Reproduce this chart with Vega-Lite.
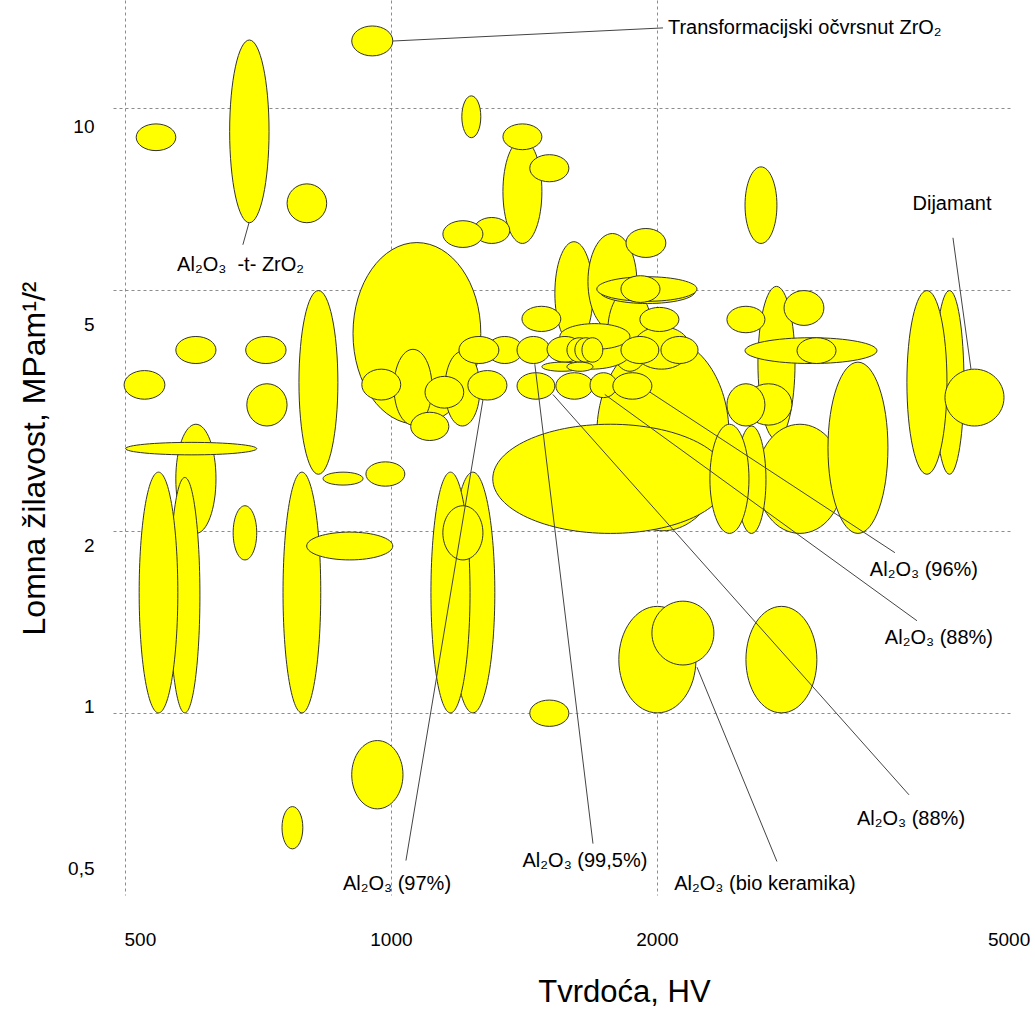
{
  "$schema": "https://vega.github.io/schema/vega-lite/v6.json",
  "width": 897,
  "height": 895,
  "autosize": {"type": "none"},
  "padding": {"left": 113, "top": 0, "right": 25, "bottom": 117},
  "background": "white",
  "config": {
    "view": {"stroke": null},
    "font": "Liberation Sans",
    "axis": {"labelFont": "Liberation Sans", "titleFont": "Liberation Sans", "labelColor": "#000000", "titleColor": "#000000", "titleFontWeight": "normal"}
  },
  "datasets": {
    "ellipses": [
      {"hmin": 903, "hmax": 1005, "kmin": 12.19, "kmax": 13.66},
      {"hmin": 657, "hmax": 728, "kmin": 6.46, "kmax": 12.95},
      {"hmin": 515, "hmax": 571, "kmin": 8.5, "kmax": 9.41},
      {"hmin": 763, "hmax": 846, "kmin": 6.46, "kmax": 7.49},
      {"hmin": 1203, "hmax": 1264, "kmin": 8.93, "kmax": 10.47},
      {"hmin": 1339, "hmax": 1482, "kmin": 5.97, "kmax": 8.86},
      {"hmin": 1339, "hmax": 1482, "kmin": 8.53, "kmax": 9.41},
      {"hmin": 1436, "hmax": 1590, "kmin": 7.55, "kmax": 8.37},
      {"hmin": 1241, "hmax": 1363, "kmin": 5.97, "kmax": 6.59},
      {"hmin": 1145, "hmax": 1271, "kmin": 5.88, "kmax": 6.51},
      {"hmin": 2516, "hmax": 2734, "kmin": 5.97, "kmax": 7.99},
      {"hmin": 571, "hmax": 634, "kmin": 3.78, "kmax": 4.19},
      {"hmin": 685, "hmax": 761, "kmin": 3.78, "kmax": 4.19},
      {"hmin": 499, "hmax": 555, "kmin": 3.3, "kmax": 3.68},
      {"hmin": 687, "hmax": 763, "kmin": 2.98, "kmax": 3.5},
      {"hmin": 787, "hmax": 871, "kmin": 2.48, "kmax": 4.99},
      {"hmin": 571, "hmax": 634, "kmin": 1.98, "kmax": 3.0},
      {"hmin": 501, "hmax": 705, "kmin": 2.67, "kmax": 2.8},
      {"hmin": 838, "hmax": 930, "kmin": 2.38, "kmax": 2.5},
      {"hmin": 937, "hmax": 1037, "kmin": 2.37, "kmax": 2.6},
      {"hmin": 562, "hmax": 608, "kmin": 1.0, "kmax": 2.45},
      {"hmin": 519, "hmax": 574, "kmin": 1.0, "kmax": 2.5},
      {"hmin": 663, "hmax": 705, "kmin": 1.79, "kmax": 2.2},
      {"hmin": 755, "hmax": 833, "kmin": 1.0, "kmax": 2.5},
      {"hmin": 803, "hmax": 1005, "kmin": 1.79, "kmax": 1.99},
      {"hmin": 903, "hmax": 1032, "kmin": 0.694, "kmax": 0.9},
      {"hmin": 753, "hmax": 795, "kmin": 0.596, "kmax": 0.7},
      {"hmin": 1169, "hmax": 1311, "kmin": 1.0, "kmax": 2.5},
      {"hmin": 1110, "hmax": 1229, "kmin": 1.0, "kmax": 2.5},
      {"hmin": 1145, "hmax": 1271, "kmin": 1.79, "kmax": 2.2},
      {"hmin": 1436, "hmax": 1590, "kmin": 0.95, "kmax": 1.05},
      {"hmin": 1811, "hmax": 2214, "kmin": 1.0, "kmax": 1.5},
      {"hmin": 1974, "hmax": 2320, "kmin": 1.2, "kmax": 1.53},
      {"hmin": 2522, "hmax": 3034, "kmin": 1.0, "kmax": 1.5},
      {"hmin": 906, "hmax": 1264, "kmin": 3.0, "kmax": 5.99},
      {"hmin": 1008, "hmax": 1113, "kmin": 2.99, "kmax": 3.99},
      {"hmin": 1151, "hmax": 1261, "kmin": 2.98, "kmax": 3.96},
      {"hmin": 927, "hmax": 1026, "kmin": 3.29, "kmax": 3.7},
      {"hmin": 1093, "hmax": 1209, "kmin": 3.19, "kmax": 3.6},
      {"hmin": 1053, "hmax": 1163, "kmin": 2.82, "kmax": 3.14},
      {"hmin": 1222, "hmax": 1353, "kmin": 3.29, "kmax": 3.68},
      {"hmin": 1710, "hmax": 2413, "kmin": 2.0, "kmax": 4.17},
      {"hmin": 1304, "hmax": 2406, "kmin": 1.98, "kmax": 3.0},
      {"hmin": 1533, "hmax": 1693, "kmin": 4.06, "kmax": 6.01},
      {"hmin": 1671, "hmax": 1898, "kmin": 4.3, "kmax": 6.2},
      {"hmin": 1845, "hmax": 2047, "kmin": 5.66, "kmax": 6.32},
      {"hmin": 1760, "hmax": 1974, "kmin": 3.67, "kmax": 5.01},
      {"hmin": 1724, "hmax": 2208, "kmin": 4.75, "kmax": 5.2},
      {"hmin": 1710, "hmax": 2220, "kmin": 4.79, "kmax": 5.26},
      {"hmin": 1821, "hmax": 2016, "kmin": 4.77, "kmax": 5.28},
      {"hmin": 1879, "hmax": 2180, "kmin": 3.7, "kmax": 4.35},
      {"hmin": 1407, "hmax": 1557, "kmin": 4.27, "kmax": 4.7},
      {"hmin": 1913, "hmax": 2118, "kmin": 4.27, "kmax": 4.68},
      {"hmin": 1525, "hmax": 1864, "kmin": 3.7, "kmax": 4.17},
      {"hmin": 1553, "hmax": 1864, "kmin": 3.99, "kmax": 4.4},
      {"hmin": 1284, "hmax": 1410, "kmin": 3.78, "kmax": 4.19},
      {"hmin": 1194, "hmax": 1325, "kmin": 3.78, "kmax": 4.19},
      {"hmin": 1389, "hmax": 1513, "kmin": 3.78, "kmax": 4.19},
      {"hmin": 1502, "hmax": 1649, "kmin": 3.8, "kmax": 4.19},
      {"hmin": 1582, "hmax": 1688, "kmin": 3.8, "kmax": 4.17},
      {"hmin": 1615, "hmax": 1710, "kmin": 3.8, "kmax": 4.17},
      {"hmin": 1645, "hmax": 1737, "kmin": 3.8, "kmax": 4.17},
      {"hmin": 1821, "hmax": 2010, "kmin": 3.78, "kmax": 4.19},
      {"hmin": 2021, "hmax": 2226, "kmin": 3.78, "kmax": 4.19},
      {"hmin": 1482, "hmax": 1645, "kmin": 3.67, "kmax": 3.8},
      {"hmin": 1582, "hmax": 1693, "kmin": 3.67, "kmax": 3.8},
      {"hmin": 1389, "hmax": 1533, "kmin": 3.3, "kmax": 3.65},
      {"hmin": 1537, "hmax": 1693, "kmin": 3.3, "kmax": 3.65},
      {"hmin": 1680, "hmax": 1802, "kmin": 3.32, "kmax": 3.65},
      {"hmin": 1783, "hmax": 1974, "kmin": 3.3, "kmax": 3.65},
      {"hmin": 2602, "hmax": 2866, "kmin": 2.83, "kmax": 5.07},
      {"hmin": 2400, "hmax": 2650, "kmin": 4.25, "kmax": 4.7},
      {"hmin": 2785, "hmax": 3090, "kmin": 4.37, "kmax": 4.99},
      {"hmin": 2516, "hmax": 3548, "kmin": 3.78, "kmax": 4.17},
      {"hmin": 2881, "hmax": 3189, "kmin": 3.78, "kmax": 4.17},
      {"hmin": 2516, "hmax": 2843, "kmin": 2.99, "kmax": 3.5},
      {"hmin": 2400, "hmax": 2650, "kmin": 2.98, "kmax": 3.5},
      {"hmin": 2595, "hmax": 3247, "kmin": 1.98, "kmax": 3.0},
      {"hmin": 2464, "hmax": 2657, "kmin": 1.98, "kmax": 2.98},
      {"hmin": 2296, "hmax": 2542, "kmin": 1.98, "kmax": 3.0},
      {"hmin": 3123, "hmax": 3651, "kmin": 1.98, "kmax": 3.8},
      {"hmin": 4127, "hmax": 4451, "kmin": 2.48, "kmax": 4.99},
      {"hmin": 3836, "hmax": 4258, "kmin": 2.48, "kmax": 4.99},
      {"hmin": 4236, "hmax": 4940, "kmin": 2.98, "kmax": 3.7}
    ],
    "leaders": [
      {"h1": 1005, "k1": 12.9, "h2": 2032, "k2": 13.56},
      {"h1": 691, "k1": 6.46, "h2": 680, "k2": 5.94},
      {"h1": 4325, "k1": 6.1, "h2": 4533, "k2": 3.7},
      {"h1": 1271, "k1": 3.29, "h2": 1040, "k2": 0.57},
      {"h1": 1455, "k1": 3.77, "h2": 1693, "k2": 0.608},
      {"h1": 2220, "k1": 1.19, "h2": 2734, "k2": 0.568},
      {"h1": 1964, "k1": 3.39, "h2": 3718, "k2": 1.84},
      {"h1": 1746, "k1": 3.36, "h2": 3938, "k2": 1.42},
      {"h1": 1525, "k1": 3.36, "h2": 3857, "k2": 0.732}
    ],
    "labels": [
      {"h": 676, "k": 5.51, "label": "Al₂O₃\u00a0 -t- ZrO₂"},
      {"h": 4314, "k": 6.94, "label": "Dijamant"},
      {"h": 1016, "k": 0.522, "label": "Al₂O₃ (97%)"},
      {"h": 1658, "k": 0.568, "label": "Al₂O₃ (99,5%)"},
      {"h": 2650, "k": 0.522, "label": "Al₂O₃ (bio keramika)"},
      {"h": 4010, "k": 1.72, "label": "Al₂O₃ (96%)"},
      {"h": 4170, "k": 1.33, "label": "Al₂O₃ (88%)"},
      {"h": 3877, "k": 0.668, "label": "Al₂O₃ (88%)"}
    ],
    "labelsLeft": [
      {"h": 2058, "k": 13.56, "label": "Transformacijski očvrsnut ZrO₂"}
    ]
  },
  "layer": [
    {
      "data": {"name": "ellipses"},
      "mark": {
        "type": "point",
        "shape": {"expr": "'M0,' + ((scale('y', datum.kmin) - scale('y', datum.kmax)) / 2) + 'A' + ((scale('x', datum.hmax) - scale('x', datum.hmin)) / 2) + ',' + ((scale('y', datum.kmin) - scale('y', datum.kmax)) / 2) + ' 0 1,0 ' + (scale('x', datum.hmax) - scale('x', datum.hmin)) + ',' + ((scale('y', datum.kmin) - scale('y', datum.kmax)) / 2) + 'A' + ((scale('x', datum.hmax) - scale('x', datum.hmin)) / 2) + ',' + ((scale('y', datum.kmin) - scale('y', datum.kmax)) / 2) + ' 0 1,0 0,' + ((scale('y', datum.kmin) - scale('y', datum.kmax)) / 2) + 'Z'"},
        "size": 4,
        "filled": true,
        "fill": "#ffff00",
        "stroke": "#333333",
        "strokeWidth": 1,
        "opacity": 1,
        "fillOpacity": 1,
        "strokeOpacity": 1
      },
      "encoding": {
        "x": {
          "field": "hmin", "type": "quantitative", "title": "Tvrdoća, HV",
          "scale": {"type": "log", "domain": [484.8, 5018], "nice": false, "zero": false},
          "axis": {
            "title": "Tvrdoća, HV",
            "values": [500, 1000, 2000, 5000],
            "format": "d",
            "grid": true,
            "gridColor": "#8c8c8c",
            "gridDash": [3, 3],
            "gridWidth": 1,
            "gridOpacity": {"condition": {"test": "datum.value == 5000", "value": 0}, "value": 1},
            "domain": false,
            "ticks": false,
            "tickSize": 0,
            "labelFontSize": 19,
            "labelPadding": 35,
            "labelFlush": false,
            "labelOverlap": false,
            "labelOffset": {"condition": {"test": "datum.value == 500", "value": 15}, "value": 0},
            "titleFontSize": 31,
            "titleX": 511,
            "titleY": 106,
            "titleBaseline": "alphabetic"
          }
        },
        "y": {
          "field": "kmax", "type": "quantitative", "title": "Lomna žilavost, MPam¹/²",
          "scale": {"type": "log", "domain": [0.5, 15.08], "nice": false, "zero": false},
          "axis": {
            "title": "Lomna žilavost, MPam¹/²",
            "values": [0.5, 1, 2, 5, 10],
            "labelExpr": "datum.value == 0.5 ? '0,5' : '' + datum.value",
            "grid": true,
            "gridColor": "#8c8c8c",
            "gridDash": [3, 3],
            "gridWidth": 1,
            "gridOpacity": {"condition": {"test": "datum.value == 0.5", "value": 0}, "value": 1},
            "domain": false,
            "ticks": false,
            "tickSize": 0,
            "labelFontSize": 19,
            "labelPadding": 19,
            "labelOverlap": false,
            "labelOffset": {"condition": [
              {"test": "datum.value == 10", "value": 19},
              {"test": "datum.value == 5", "value": 34},
              {"test": "datum.value == 2", "value": 15},
              {"test": "datum.value == 1", "value": -6},
              {"test": "datum.value == 0.5", "value": -27}
            ], "value": 0},
            "titleFontSize": 32,
            "titleX": -69,
            "titleY": 458,
            "titleAngle": 270,
            "titleBaseline": "alphabetic"
          }
        }
      }
    },
    {
      "data": {"name": "leaders"},
      "mark": {"type": "rule", "color": "#444444", "strokeWidth": 1},
      "encoding": {
        "x": {"field": "h1", "type": "quantitative", "title": "Tvrdoća, HV", "scale": {"type": "log", "domain": [484.8, 5018], "nice": false, "zero": false}},
        "y": {"field": "k1", "type": "quantitative", "title": "Lomna žilavost, MPam¹/²", "scale": {"type": "log", "domain": [0.5, 15.08], "nice": false, "zero": false}},
        "x2": {"field": "h2"},
        "y2": {"field": "k2"}
      }
    },
    {
      "data": {"name": "labels"},
      "mark": {"type": "text", "font": "Liberation Sans", "fontSize": 20, "color": "#000000", "align": "center", "baseline": "middle"},
      "encoding": {
        "x": {"field": "h", "type": "quantitative", "title": "Tvrdoća, HV", "scale": {"type": "log", "domain": [484.8, 5018], "nice": false, "zero": false}},
        "y": {"field": "k", "type": "quantitative", "title": "Lomna žilavost, MPam¹/²", "scale": {"type": "log", "domain": [0.5, 15.08], "nice": false, "zero": false}},
        "text": {"field": "label"}
      }
    },
    {
      "data": {"name": "labelsLeft"},
      "mark": {"type": "text", "font": "Liberation Sans", "fontSize": 20, "color": "#000000", "align": "left", "baseline": "middle"},
      "encoding": {
        "x": {"field": "h", "type": "quantitative", "title": "Tvrdoća, HV", "scale": {"type": "log", "domain": [484.8, 5018], "nice": false, "zero": false}},
        "y": {"field": "k", "type": "quantitative", "title": "Lomna žilavost, MPam¹/²", "scale": {"type": "log", "domain": [0.5, 15.08], "nice": false, "zero": false}},
        "text": {"field": "label"}
      }
    }
  ]
}
